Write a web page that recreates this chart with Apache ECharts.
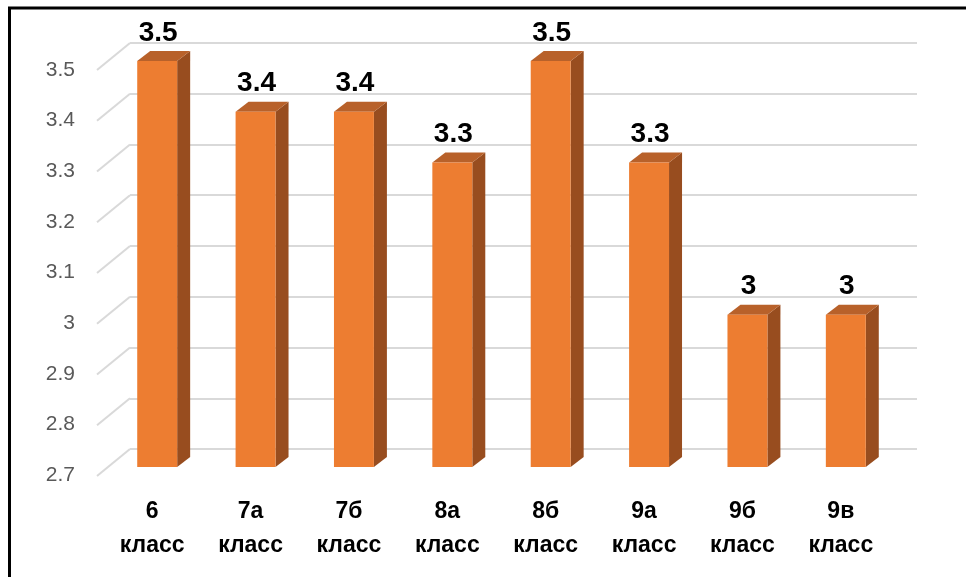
<!DOCTYPE html>
<html>
<head>
<meta charset="utf-8">
<script src="https://cdn.jsdelivr.net/npm/echarts@6/dist/echarts.min.js"></script>
<style>html,body{margin:0;padding:0;background:#fff;}#c{width:966px;height:577px;}</style>
</head>
<body>
<div id="c"></div>
<script>
var categories = ['6 класс', '7а класс', '7б класс', '8а класс', '8б класс', '9а класс', '9б класс', '9в класс'];
var values = [3.5, 3.4, 3.4, 3.3, 3.5, 3.3, 3.0, 3.0];
var tickValues = [2.7, 2.8, 2.9, 3.0, 3.1, 3.2, 3.3, 3.4, 3.5];
var yMin = 2.7, yMax = 3.5, yStep = 0.1;

var FONT = 'Liberation Sans, Arial, sans-serif';
var DX = 13, DY = -10;

var chart = echarts.init(document.getElementById('c'), null, {renderer: 'canvas'});

var option = {
  backgroundColor: '#ffffff',
  animation: false,
  graphic: [{
    type: 'rect', shape: {x: 9.5, y: 8, width: 1000, height: 600},
    style: {fill: 'none', stroke: '#000', lineWidth: 3}, z: 100, silent: true
  }],
  grid: [
    {left: 108, right: 71, top: 61, bottom: 110},
    {left: 130, right: 49, top: 43, bottom: 128},
    {left: 97, right: 82, top: 70, bottom: 102}
  ],
  xAxis: [
    {gridIndex: 0, type: 'category', data: categories,
      axisLine: {show: false}, axisTick: {show: false},
      axisLabel: {interval: 0, margin: 28, fontFamily: FONT, fontWeight: 'bold', fontSize: 23,
        color: '#000', lineHeight: 34, padding: [0, 10, 0, 0],
        formatter: function (v) { return v.replace(' ', '\n'); }}},
    {gridIndex: 1, type: 'category', data: categories, show: false},
    {gridIndex: 2, type: 'category', data: categories, show: false}
  ],
  yAxis: [
    {gridIndex: 0, type: 'value', min: yMin, max: yMax, interval: yStep, show: false},
    {gridIndex: 1, type: 'value', min: yMin, max: yMax, interval: yStep,
      axisLine: {show: false}, axisTick: {show: false}, axisLabel: {show: false},
      splitLine: {show: true, lineStyle: {color: '#D9D9D9', width: 2}}},
    {gridIndex: 2, type: 'value', min: yMin, max: yMax, interval: yStep,
      axisLine: {show: false}, axisTick: {show: false}, splitLine: {show: false},
      axisLabel: {margin: 22, fontFamily: FONT, fontSize: 21, color: '#595959'}}
  ],
  series: [
    {
      type: 'custom', xAxisIndex: 0, yAxisIndex: 0, z: 1, silent: true,
      data: tickValues.map(function (t) { return [0, t]; }),
      renderItem: function (params, api) {
        var p = api.coord([0, api.value(1)]);
        var x0 = params.coordSys.x;
        return {
          type: 'line',
          shape: {x1: x0 - 11, y1: p[1] + 9, x2: x0 + 22, y2: p[1] - 18},
          style: {stroke: '#D9D9D9', lineWidth: 2}
        };
      }
    },
    {
      type: 'custom', xAxisIndex: 0, yAxisIndex: 0, z: 5, silent: true,
      data: values.map(function (v, i) { return [i, v]; }),
      renderItem: function (params, api) {
        var i = api.value(0), v = api.value(1);
        var top = api.coord([i, v]);
        var base = api.coord([i, yMin]);
        var w = api.size([1, 0])[0] * 0.406;
        var xl = top[0] - w / 2, xr = top[0] + w / 2;
        var yt = top[1], yb = base[1];
        return {
          type: 'group',
          children: [
            {type: 'polygon', shape: {points: [[xr, yt], [xr + DX, yt + DY], [xr + DX, yb + DY], [xr, yb]]},
              style: {fill: '#984D1F'}},
            {type: 'polygon', shape: {points: [[xl, yt], [xl + DX, yt + DY], [xr + DX, yt + DY], [xr, yt]]},
              style: {fill: '#B8612A'}},
            {type: 'rect', shape: {x: xl, y: yt, width: w, height: yb - yt},
              style: {fill: '#ED7D31'}},
            {type: 'text', style: {x: top[0] + 1, y: yt - 28, text: String(v),
              font: 'bold 28px ' + FONT, fill: '#000', align: 'center', verticalAlign: 'middle'}}
          ]
        };
      }
    }
  ]
};
chart.setOption(option);
</script>
</body>
</html>
